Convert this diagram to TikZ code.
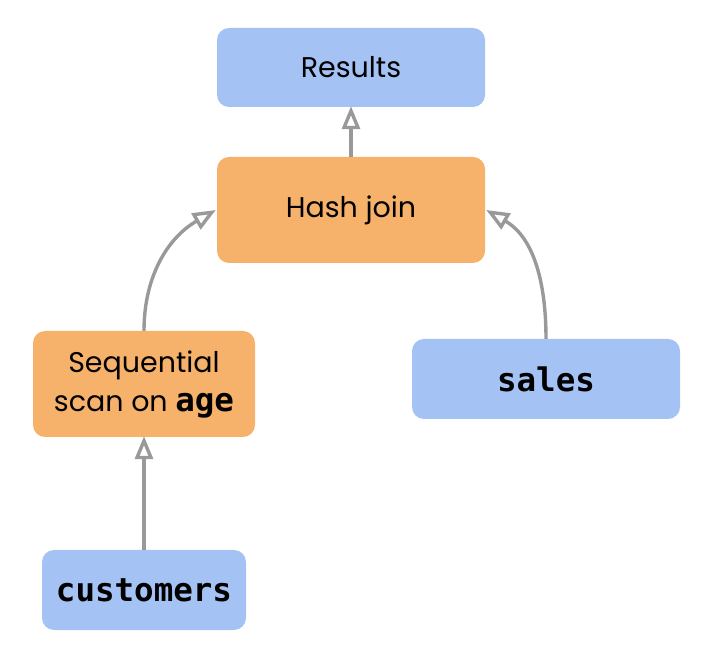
\documentclass[tikz,border=0pt]{standalone}
\usepackage{fontspec}
\setmainfont{Poppins}
\setmonofont{DejaVu Sans Mono}
\usetikzlibrary{arrows.meta}
\definecolor{bluebox}{HTML}{A4C2F4}
\definecolor{orangebox}{HTML}{F6B26B}
\definecolor{arrowgray}{HTML}{999999}
\tikzset{
  x=1pt,y=1pt,
  box/.style={rounded corners=12pt, inner sep=0pt, align=center, font=\fontsize{28.5}{39}\selectfont},
  bluenode/.style={box, fill=bluebox},
  orangenode/.style={box, fill=orangebox},
  monotext/.style={font=\fontsize{32.5}{39}\selectfont\ttfamily\bfseries},
  conn/.style={draw=arrowgray, line width=3.4pt, -{Triangle[open, length=23pt, width=18pt, line width=3.4pt]}},
}
\begin{document}
\begin{tikzpicture}
\useasboundingbox (0,0) rectangle (722,658);
\node[bluenode, minimum width=268pt, minimum height=79pt] (results) at (351,590.5) {Results};
\node[orangenode, minimum width=268pt, minimum height=106pt] (hash) at (351,448) {Hash join};
\node[orangenode, minimum width=222pt, minimum height=106pt] (seq) at (144,274) {\raisebox{-4pt}{\begin{tabular}{@{}c@{}}Sequential\\scan on {\fontsize{32.5}{39}\selectfont\ttfamily\bfseries age}\end{tabular}}};
\node[bluenode, minimum width=268pt, minimum height=80pt, monotext] (sales) at (546,279) {sales};
\node[bluenode, minimum width=204pt, minimum height=80pt, monotext] (cust) at (144,68) {customers};
\draw[conn] (hash.north) -- ([yshift=1pt]results.south);
\draw[conn] (cust.north) -- ([yshift=1pt]seq.south);
\draw[conn] (seq.north) to[out=90, in=210] ([xshift=-1pt]hash.west);
\draw[conn] (sales.north) to[out=90, in=-30] ([xshift=1pt]hash.east);
\end{tikzpicture}
\end{document}
